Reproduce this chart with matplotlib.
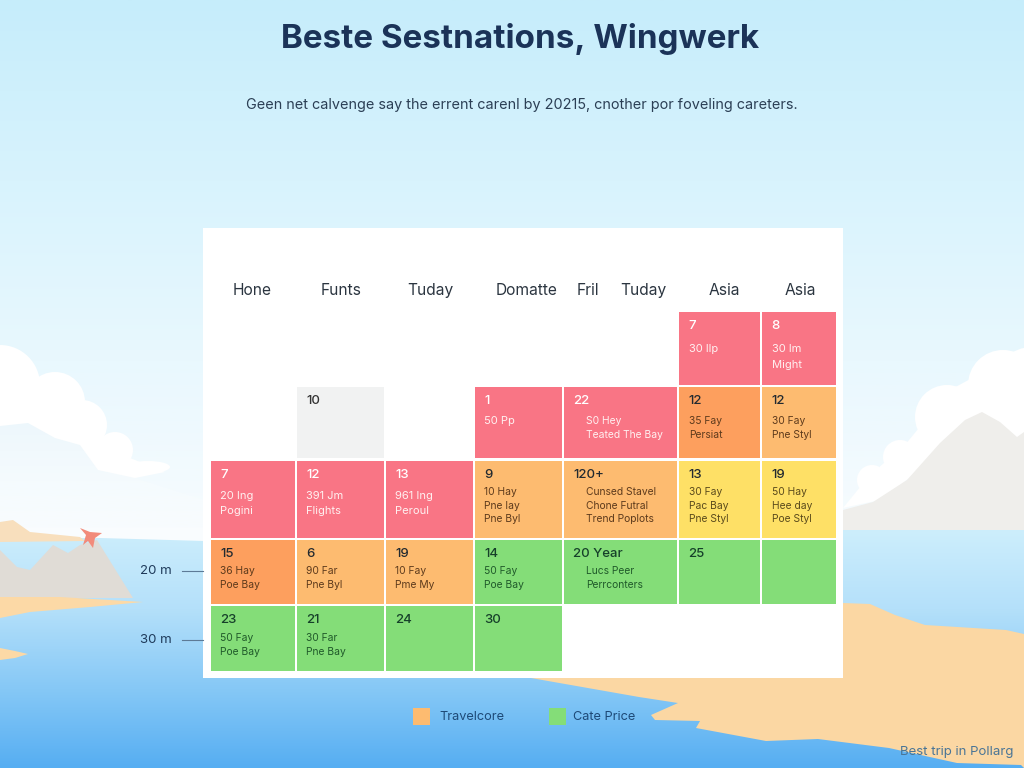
#!/usr/bin/env python3
"""Travel calendar poster, drawn in one pixel-scaled axes over a beach backdrop."""
import matplotlib
matplotlib.use("Agg")
import matplotlib.pyplot as plt
import numpy as np
from matplotlib.colors import LinearSegmentedColormap
from matplotlib.patches import Circle, Ellipse, Polygon, Rectangle

plt.rcParams["font.family"] = ["Inter", "DejaVu Sans"]

title = "Beste Sestnations, Wingwerk"
subtitle = "Geen net calvenge say the errent carenl by 20215, cnother por foveling careters."
footer = "Best trip in Pollarg"

headers = ["Hone", "Funts", "Tuday", "Domatte", "Fril", "Tuday", "Asia", "Asia"]
scale_labels = ["20 m", "30 m"]
legend_labels = ["Travelcore", "Cate Price"]

# calendar cells, one entry per cell
cell_rows = [0, 0,
             1, 1, 1, 1, 1,
             2, 2, 2, 2, 2, 2, 2,
             3, 3, 3, 3, 3, 3, 3,
             4, 4, 4, 4]
cell_cols = [5, 6,
             1, 3, 4, 5, 6,
             0, 1, 2, 3, 4, 5, 6,
             0, 1, 2, 3, 4, 5, 6,
             0, 1, 2, 3]
cell_days = ["7", "8",
             "10", "1", "22", "12", "12",
             "7", "12", "13", "9", "120+", "13", "19",
             "15", "6", "19", "14", "20 Year", "25", "",
             "23", "21", "24", "30"]
cell_notes = ["30 llp", "30 lm\nMight",
              "", "50 Pp", "S0 Hey\nTeated The Bay", "35 Fay\nPersiat", "30 Fay\nPne Styl",
              "20 Ing\nPogini", "391 Jm\nFlights", "961 Ing\nPeroul", "10 Hay\nPne Iay\nPne Byl",
              "Cunsed Stavel\nChone Futral\nTrend Poplots", "30 Fay\nPac Bay\nPne Styl",
              "50 Hay\nHee day\nPoe Styl",
              "36 Hay\nPoe Bay", "90 Far\nPne Byl", "10 Fay\nPme My", "50 Fay\nPoe Bay",
              "Lucs Peer\nPerrconters", "", "",
              "50 Fay\nPoe Bay", "30 Far\nPne Bay", "", ""]
cell_kinds = ["red", "red",
              "grey", "red", "red", "deep", "orange",
              "red", "red", "red", "orange", "orange", "yellow", "yellow",
              "deep", "orange", "orange", "green", "green", "green", "green",
              "green", "green", "green", "green"]

palette = {"red": "#f97585", "deep": "#fd9f5e", "orange": "#fdbb70",
           "yellow": "#fee066", "green": "#84dd78", "grey": "#f1f2f2"}
note_color = {"red": "#fff1f1", "deep": "#5d3a1c", "orange": "#5d3a1c",
              "yellow": "#5a4a1c", "green": "#205a2a", "grey": "#333333"}
day_color = {"red": "#ffffff", "deep": "#222a30", "orange": "#222a30",
             "yellow": "#222a30", "green": "#16402a", "grey": "#333333"}

col_edges = [(211, 295), (297, 384), (386, 473), (475, 562), (564, 677), (679, 760), (762, 836)]
row_edges = [(312, 385), (387, 458), (461, 538), (540, 604), (606, 671)]
note_offset = [37, 34, 35, 31, 32]
header_x = [252, 341, 430, 527, 588, 643, 724, 800]

fig = plt.figure(figsize=(10.24, 7.68), dpi=100)
ax = fig.add_axes([0, 0, 1, 1])
ax.set_xlim(0, 1024)
ax.set_ylim(768, 0)
ax.axis("off")


def gradient(y0, y1, colors, z, clip=None):
    cmap = LinearSegmentedColormap.from_list("g", colors)
    im = ax.imshow(np.linspace(0, 1, 256).reshape(-1, 1), cmap=cmap, aspect="auto",
                   extent=(0, 1024, y1, y0), zorder=z)
    if clip is not None:
        im.set_clip_path(clip)


# backdrop
gradient(0, 542, ["#c6edfb", "#d8f3fd", "#e9f8fe", "#f8fcfe"], 0)

# clouds, left then right
for x, y, r in [(0, 385, 40), (55, 402, 30), (82, 425, 25), (115, 450, 18),
                (1003, 385, 35), (947, 417, 32), (900, 457, 17), (872, 480, 15),
                (1032, 385, 38)]:
    ax.add_patch(Circle((x, y), r, fc="white", ec="none", zorder=1))
ax.add_patch(Ellipse((148, 467), 44, 12, fc="white", ec="none", zorder=1))
ax.add_patch(Polygon([(0, 400), (60, 400), (110, 450), (165, 472), (100, 485), (0, 485)],
                     fc="white", ec="none", zorder=1))
ax.add_patch(Polygon([(843, 508), (870, 475), (905, 445), (950, 390), (1024, 350), (1024, 440),
                      (980, 430), (920, 470), (880, 500)], fc="white", ec="none", zorder=1))
inner = Polygon([(0, 426), (28, 423), (55, 438), (80, 445), (98, 470), (135, 478), (205, 500),
                 (205, 542), (0, 542)], fc="none", ec="none", zorder=1.5)
ax.add_patch(inner)
gradient(420, 542, ["#edf7fc", "#f5fbfe", "#f9fcfe"], 1.5, clip=inner)

ax.add_patch(Polygon([(843, 510), (873, 502), (907, 480), (940, 443), (965, 420), (982, 412),
                      (1000, 422), (1017, 437), (1024, 432), (1024, 532), (843, 532)],
                     fc="#efeeeb", ec="none", zorder=2))
gradient(530, 768, ["#cdeefc", "#b4e0fa", "#86c8f6", "#56aef2"], 2)
ax.add_patch(Polygon([(0, 528), (205, 528), (205, 541), (100, 538), (0, 538)],
                     fc="#f9fcfe", ec="none", zorder=2.2))
ax.add_patch(Polygon([(0, 522), (13, 520), (30, 532), (80, 537), (85, 541), (0, 542)],
                     fc="#f8dfbd", ec="none", zorder=2.4))
ax.add_patch(Polygon([(0, 550), (17, 567), (30, 570), (53, 545), (68, 553), (80, 545), (97, 540),
                      (133, 598), (0, 598)], fc="#e0dcd6", ec="none", zorder=3))
ax.add_patch(Polygon([(0, 597), (60, 597), (143, 602), (90, 607), (30, 612), (0, 618)],
                     fc="#fcd9a6", ec="none", zorder=3))
ax.add_patch(Polygon([(0, 648), (15, 651), (28, 654), (15, 658), (0, 660)],
                     fc="#fcd9a6", ec="none", zorder=3))
ax.add_patch(Polygon([(843, 603), (870, 604), (895, 615), (925, 625), (1006, 630), (1024, 634),
                      (1024, 768), (1021, 765), (957, 763), (889, 748), (818, 739), (766, 741),
                      (696, 728), (700, 721), (655, 720), (651, 715), (678, 703), (639, 697),
                      (531, 678), (843, 678)], fc="#fbd7a3", ec="none", zorder=3))
ax.add_patch(Polygon([(80, 528), (90, 532), (102, 533), (95, 538), (93, 548), (88, 541),
                      (83, 545), (86, 535)], fc="#f28b7b", ec="none", zorder=4))

# panel and grid
ax.add_patch(Rectangle((203, 228), 640, 450, fc="white", ec="none", zorder=5))
for row, col, day, note, kind in zip(cell_rows, cell_cols, cell_days, cell_notes, cell_kinds):
    x0, x1 = col_edges[col]
    y0, y1 = row_edges[row]
    ax.add_patch(Rectangle((x0, y0), x1 - x0, y1 - y0, fc=palette[kind], ec="none", zorder=6))
    ax.text(x0 + 9, y0 + 14, day, fontsize=9.5, color=day_color[kind], weight="medium",
            ha="left", va="center", zorder=7)
    if note:
        lines = note.split("\n")
        indent = 22 if col == 4 else (10 if col > 4 else 9)
        first = y0 + note_offset[row] - (4 if len(lines) == 3 else 0)
        gap = 15.5 if kind == "red" and col != 4 else 13.7
        size = 8 if kind == "red" and col != 4 else 7.4
        for i, line in enumerate(lines):
            ax.text(x0 + indent, first + i * gap, line, fontsize=size,
                    color=note_color[kind], ha="left", va="center", zorder=7)

for x, label in zip(header_x, headers):
    ax.text(x, 295, label, fontsize=11.2, color="#2b3540", ha="center", va="baseline", zorder=7)

# titles
ax.text(520, 48, title, fontsize=23.9, weight="bold", color="#1b3358",
        ha="center", va="baseline", zorder=7)
ax.text(522, 105, subtitle, fontsize=10.4, color="#2b3f55", ha="center", va="center", zorder=7)

# scale marks on the left
for y, label in zip([571, 640], scale_labels):
    ax.text(140, y, label, fontsize=9.5, color="#1e3a5a", ha="left", va="center", zorder=7)
    ax.plot([182, 203], [y, y], color="#5d7a96", lw=0.8, zorder=7)

# legend
for x, tx, key, label in zip([413, 549], [439, 573], ["orange", "green"], legend_labels):
    ax.add_patch(Rectangle((x, 708), 17, 17, fc=palette[key], ec="none", zorder=7))
    ax.text(tx, 717, label, fontsize=9.2, color="#1e4a78", ha="left", va="center", zorder=7)

ax.text(1013, 752, footer, fontsize=9.5, color="#4a7596", ha="right", va="center", zorder=7)

fig.savefig("out.png", dpi=100)
